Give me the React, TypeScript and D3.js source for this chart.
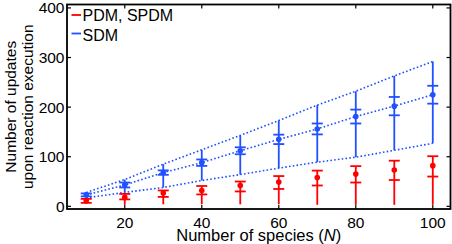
import React from 'react';
import * as d3 from 'd3';

// species counts on the x axis
const speciesN = [10, 20, 30, 40, 50, 60, 70, 80, 90, 100];

// SDM (blue): mean, std, min and max of updates
const sdmMean = [23, 43, 68, 88, 112, 135, 156, 181, 202, 225];
const sdmStd = [3, 5, 4.5, 6.5, 7, 9.5, 11, 14, 18.5, 18];
const sdmMin = [17, 28, 38, 52, 64, 77, 89, 99, 113, 127];
const sdmMax = [28, 54, 85, 114, 143, 173, 204, 232, 263, 292];

// PDM, SPDM (red): mean, upper cap, lower tick, min
const pdmMean = [11, 18, 27, 32, 42, 49, 58, 65, 73, 82];
const pdmHigh = [15, 25, 32, 41, 50, 61, 72, 81, 92, 101];
const pdmLow = [7, 14, 19, 24, 30, 35, 42, 48, 53, 60];
const pdmMin = [6, 3, 4, 4, 4, 4, 3, 3, 3, 3];

const xTicks = [20, 40, 60, 80, 100];
const yTicks = [0, 100, 200, 300, 400];

const W = 452;
const H = 244;
const plot = { left: 67, right: 450.5, top: 4.5, bottom: 209 };
const BLUE = '#2050ff';
const RED = '#ff0000';
const FONT = '"Liberation Sans", Arial, Helvetica, sans-serif';

const x = d3.scaleLinear().domain([5, 104.6]).range([plot.left, plot.right]);
const y = d3.scaleLinear().domain([-5.4, 406.9]).range([plot.bottom, plot.top]);

export default function App() {
  const line = d3
    .line<[number, number]>()
    .x((d) => x(d[0]))
    .y((d) => y(d[1]));
  const series = (vals: number[]) => speciesN.map((n, i) => [n, vals[i]] as [number, number]);
  const capW = 5.5;
  const tickLen = 4;

  return (
    <div style={{ position: 'absolute', left: 0, top: 0 }}>
      <svg width={W} height={H} style={{ display: 'block', background: '#fff' }} fontFamily={FONT}>
        {/* dotted envelopes for SDM */}
        {[sdmMax, sdmMean, sdmMin].map((vals, k) => (
          <path
            key={'dl' + k}
            d={line(series(vals))!}
            fill="none"
            stroke={BLUE}
            strokeWidth={1.6}
            strokeDasharray="1.6 2.2"
          />
        ))}

        {/* SDM error bars */}
        {speciesN.map((n, i) => {
          const cx = x(n);
          return (
            <g key={'b' + n} stroke={BLUE} strokeWidth={1.8}>
              <line x1={cx} x2={cx} y1={y(sdmMin[i])} y2={y(sdmMax[i])} />
              <line x1={cx - capW} x2={cx + capW} y1={y(sdmMean[i] + sdmStd[i])} y2={y(sdmMean[i] + sdmStd[i])} />
              <line x1={cx - capW} x2={cx + capW} y1={y(sdmMean[i] - sdmStd[i])} y2={y(sdmMean[i] - sdmStd[i])} />
              <circle cx={cx} cy={y(sdmMean[i])} r={2.8} fill={BLUE} stroke="none" />
            </g>
          );
        })}

        {/* PDM, SPDM error bars */}
        {speciesN.map((n, i) => {
          const cx = x(n);
          return (
            <g key={'r' + n} stroke={RED} strokeWidth={1.8}>
              <line x1={cx} x2={cx} y1={y(pdmMin[i])} y2={y(pdmHigh[i])} />
              <line x1={cx - capW} x2={cx + capW} y1={y(pdmHigh[i])} y2={y(pdmHigh[i])} />
              <line x1={cx - capW} x2={cx + capW} y1={y(pdmLow[i])} y2={y(pdmLow[i])} />
              <circle cx={cx} cy={y(pdmMean[i])} r={2.8} fill={RED} stroke="none" />
            </g>
          );
        })}

        {/* axes box and ticks */}
        <rect
          x={plot.left}
          y={plot.top}
          width={plot.right - plot.left}
          height={plot.bottom - plot.top}
          fill="none"
          stroke="#000"
          strokeWidth={1.8}
        />
        {xTicks.map((t) => (
          <g key={'xt' + t} stroke="#000" strokeWidth={1.2}>
            <line x1={x(t)} x2={x(t)} y1={plot.bottom} y2={plot.bottom - tickLen} />
            <line x1={x(t)} x2={x(t)} y1={plot.top} y2={plot.top + tickLen} />
          </g>
        ))}
        {yTicks.map((t) => (
          <g key={'yt' + t} stroke="#000" strokeWidth={1.2}>
            <line x1={plot.left} x2={plot.left + tickLen} y1={y(t)} y2={y(t)} />
            <line x1={plot.right} x2={plot.right - tickLen} y1={y(t)} y2={y(t)} />
          </g>
        ))}
        {xTicks.map((t) => (
          <text key={'xl' + t} x={x(t)} y={227.5} textAnchor="middle" fontSize={15.5} fill="#000">
            {t}
          </text>
        ))}
        {yTicks.map((t) => (
          <text key={'yl' + t} x={64.5} y={y(t) + 5.5} textAnchor="end" fontSize={15.5} fill="#000">
            {t}
          </text>
        ))}

        {/* axis titles */}
        <text x={(plot.left + plot.right) / 2} y={241} textAnchor="middle" fontSize={16.5} fill="#000">
          Number of species (<tspan fontStyle="italic">N</tspan>)
        </text>
        <g transform={`translate(0,${(plot.top + plot.bottom) / 2}) rotate(-90)`}>
          <text x={0} y={15.5} textAnchor="middle" fontSize={15.5} fill="#000">
            Number of updates
          </text>
          <text x={0} y={33} textAnchor="middle" fontSize={15.5} fill="#000">
            upon reaction execution
          </text>
        </g>

        {/* legend */}
        <line x1={71.5} x2={81} y1={15} y2={15} stroke={RED} strokeWidth={1.8} />
        <text x={82.5} y={20.5} fontSize={16} fill="#000">
          PDM, SPDM
        </text>
        <line x1={71.5} x2={81} y1={33.5} y2={33.5} stroke={BLUE} strokeWidth={1.8} />
        <text x={82.5} y={40.5} fontSize={16} fill="#000">
          SDM
        </text>
      </svg>
    </div>
  );
}
